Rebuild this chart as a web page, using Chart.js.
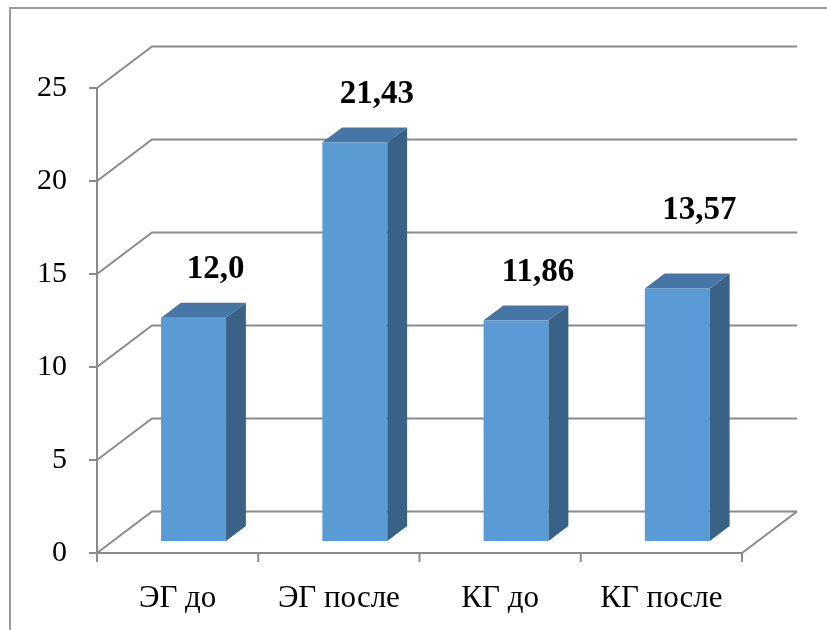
<!DOCTYPE html>
<html>
<head>
<meta charset="utf-8">
<script src="https://cdn.jsdelivr.net/npm/chart.js@4/dist/chart.umd.min.js"></script>
<style>
	html, body { margin: 0; padding: 0; background: #fff; }
	#wrap { position: relative; width: 827px; height: 630px; }
	#frame { position: absolute; left: 9px; top: 7px; right: -10px; bottom: -10px; border: 2px solid #9a9a9a; }
</style>
</head>
<body>
<div id="wrap">
	<div id="frame"></div>
	<canvas id="chart" width="827" height="630"></canvas>
</div>
<script>
const categories = ['ЭГ до', 'ЭГ после', 'КГ до', 'КГ после'];
const values = [12.0, 21.43, 11.86, 13.57];
const valueLabels = ['12,0', '21,43', '11,86', '13,57'];
const yTicks = [0, 5, 10, 15, 20, 25];

// 3d look: depth of the whole box and where the bars sit inside it
const depth = { dx: 55, dy: -41.5 };
const barFront = 0.29;
const barDepth = 0.36;
const gridColor = '#8a8a8a';
// the last label was dragged up a bit in the original
const labelLift = [0, 0, 0, 30];

const box3d = {
	id: 'box3d',
	beforeDatasetsDraw(chart) {
		const ctx = chart.ctx;
		const { left, right, top, bottom } = chart.chartArea;
		const y = chart.scales.y;
		ctx.save();
		ctx.strokeStyle = gridColor;
		ctx.lineWidth = 2;
		ctx.beginPath();
		yTicks.forEach((v) => {
			let py = y.getPixelForValue(v);
			// side wall diagonal + back wall line
			ctx.moveTo(left, py);
			ctx.lineTo(left + depth.dx, py + depth.dy);
			ctx.lineTo(right + depth.dx, py + depth.dy);
			// small tick on the front axis
			ctx.moveTo(left - 8, py);
			ctx.lineTo(left, py);
		});
		// front axis
		ctx.moveTo(left, top);
		ctx.lineTo(left, bottom);
		// floor
		ctx.moveTo(left, bottom);
		ctx.lineTo(right, bottom);
		ctx.lineTo(right + depth.dx, bottom + depth.dy);
		// category ticks
		for (let i = 0; i <= categories.length; i++) {
			let px = left + (right - left) * i / categories.length;
			ctx.moveTo(px, bottom);
			ctx.lineTo(px, bottom + 9);
		}
		ctx.stroke();
		ctx.restore();
	},
	afterDatasetsDraw(chart) {
		const ctx = chart.ctx;
		const meta = chart.getDatasetMeta(0);
		const fx = depth.dx * barFront, fy = depth.dy * barFront;
		const bx = depth.dx * barDepth, by = depth.dy * barDepth;
		ctx.save();
		meta.data.forEach((bar, i) => {
			const p = bar.getProps(['x', 'y', 'base', 'width'], true);
			let x0 = p.x - p.width / 2 + fx;
			let x1 = p.x + p.width / 2 + fx;
			let yt = p.y + fy;
			let yb = p.base + fy;
			// front
			ctx.fillStyle = '#5b9bd5';
			ctx.fillRect(x0, yt, x1 - x0, yb - yt);
			// top
			ctx.fillStyle = '#4676a8';
			ctx.beginPath();
			ctx.moveTo(x0, yt);
			ctx.lineTo(x1, yt);
			ctx.lineTo(x1 + bx, yt + by);
			ctx.lineTo(x0 + bx, yt + by);
			ctx.closePath();
			ctx.fill();
			// side
			ctx.fillStyle = '#3a6287';
			ctx.beginPath();
			ctx.moveTo(x1, yt);
			ctx.lineTo(x1 + bx, yt + by);
			ctx.lineTo(x1 + bx, yb + by);
			ctx.lineTo(x1, yb);
			ctx.closePath();
			ctx.fill();
			// value label
			ctx.fillStyle = '#000';
			ctx.font = 'bold 33px "Liberation Serif"';
			ctx.textAlign = 'center';
			ctx.textBaseline = 'middle';
			ctx.fillText(valueLabels[i], (x0 + x1) / 2 + 22, yt + by - 33 - labelLift[i]);
		});
		ctx.restore();
	}
};

new Chart(document.getElementById('chart'), {
	type: 'bar',
	data: {
		labels: categories,
		datasets: [{
			data: values,
			backgroundColor: 'rgba(0,0,0,0)',
			categoryPercentage: 1,
			barPercentage: 0.403
		}]
	},
	options: {
		responsive: false,
		animation: false,
		events: [],
		layout: { padding: { left: 0, right: 85, top: 88, bottom: 0 } },
		plugins: { legend: { display: false }, tooltip: { enabled: false } },
		scales: {
			y: {
				min: 0,
				max: 25,
				border: { display: false },
				grid: { display: false, drawTicks: false },
				ticks: {
					stepSize: 5,
					padding: 30,
					color: '#000',
					font: { family: 'Liberation Serif', size: 30 }
				},
				afterFit: (scale) => { scale.width = 97; }
			},
			x: {
				border: { display: false },
				grid: { display: false, drawTicks: false },
				ticks: {
					padding: 27,
					color: '#000',
					maxRotation: 0,
					font: { family: 'Liberation Serif', size: 31 }
				},
				afterFit: (scale) => { scale.height = 77; }
			}
		}
	},
	plugins: [box3d]
});
</script>
</body>
</html>
